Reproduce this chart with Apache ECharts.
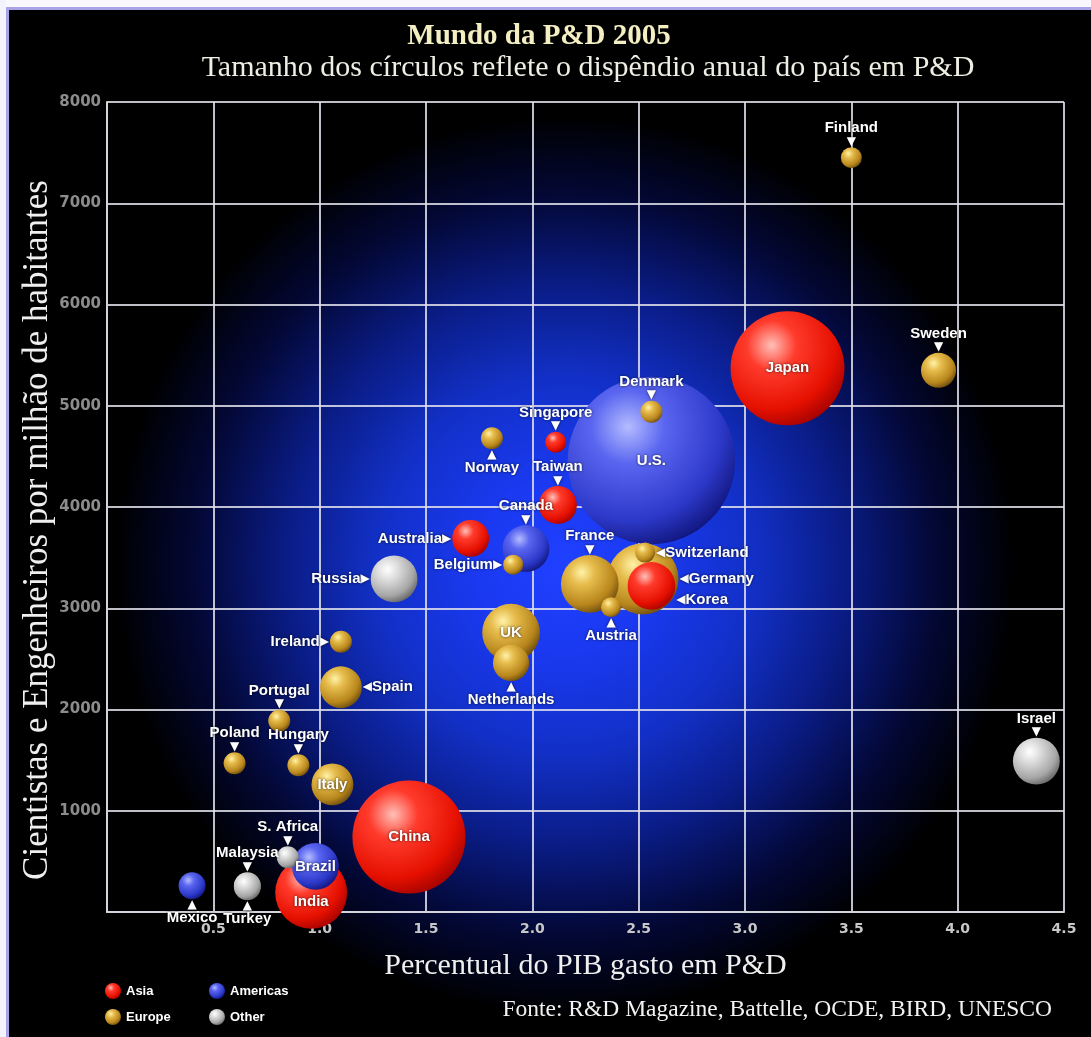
<!DOCTYPE html>
<html>
<head>
<meta charset="utf-8">
<script src="https://cdn.jsdelivr.net/npm/echarts@6/dist/echarts.min.js"></script>
<style>
  html, body { margin: 0; padding: 0; background: #000; }
  #grafico { width: 1091px; height: 1037px; }
</style>
</head>
<body>
<div id="grafico"></div>
<script>
// Países e seus indicadores de P&D (2005)
const paises = ['U.S.', 'Japan', 'China', 'India', 'Germany', 'France', 'UK', 'Korea', 'Canada', 'Russia',
  'Israel', 'Brazil', 'Italy', 'Spain', 'Taiwan', 'Australia', 'Sweden', 'Netherlands', 'Malaysia', 'Turkey',
  'Mexico', 'Finland', 'Denmark', 'Norway', 'Singapore', 'Belgium', 'Switzerland', 'Austria', 'Ireland',
  'Portugal', 'Poland', 'Hungary', 'S. Africa'];
const regiao = ['Americas', 'Asia', 'Asia', 'Asia', 'Europe', 'Europe', 'Europe', 'Asia', 'Americas', 'Other',
  'Other', 'Americas', 'Europe', 'Europe', 'Asia', 'Asia', 'Europe', 'Europe', 'Other', 'Other',
  'Americas', 'Europe', 'Europe', 'Europe', 'Asia', 'Europe', 'Europe', 'Europe', 'Europe',
  'Europe', 'Europe', 'Europe', 'Other'];
// % do PIB gasto em P&D
const pibPct = [2.56, 3.20, 1.42, 0.96, 2.52, 2.27, 1.90, 2.56, 1.97, 1.35,
  4.37, 0.98, 1.06, 1.10, 2.12, 1.71, 3.91, 1.90, 0.66, 0.66,
  0.40, 3.50, 2.56, 1.81, 2.11, 1.91, 2.53, 2.37, 1.10,
  0.81, 0.60, 0.90, 0.85];
// cientistas e engenheiros por milhão de habitantes
const cientistas = [4460, 5370, 740, 190, 3290, 3240, 2760, 3220, 3590, 3290,
  1490, 450, 1260, 2220, 4020, 3690, 5350, 2460, 260, 250,
  260, 7450, 4940, 4680, 4640, 3430, 3550, 3010, 2670,
  1890, 1470, 1450, 540];
// dispêndio anual em P&D (bilhões de US$)
const gasto = [320, 148, 146, 59, 58, 38, 38, 26, 25, 25,
  25, 25, 20, 20, 16.5, 15.5, 14, 15, 8.3, 8.3,
  8.3, 5, 5.5, 5.5, 5, 4.6, 4.6, 4.6, 5.5,
  5.5, 5.5, 5.5, 5.5];

const regioes = ['Asia', 'Americas', 'Europe', 'Other'];
const ticksX = [0.5, 1.0, 1.5, 2.0, 2.5, 3.0, 3.5, 4.0, 4.5];
const ticksY = [1000, 2000, 3000, 4000, 5000, 6000, 7000, 8000];

// onde cada rótulo fica em relação ao círculo
const posRotulo = {
  'U.S.': 'inside', Japan: 'inside', China: 'inside', India: 'inside', Germany: 'right', France: 'top',
  UK: 'inside', Korea: 'right', Canada: 'top', Russia: 'left', Israel: 'top', Brazil: 'inside',
  Italy: 'inside', Spain: 'right', Taiwan: 'top', Australia: 'left', Sweden: 'top', Netherlands: 'bottom',
  Malaysia: 'top', Turkey: 'bottom', Mexico: 'bottom', Finland: 'top', Denmark: 'top', Norway: 'bottom',
  Singapore: 'top', Belgium: 'left', Switzerland: 'right', Austria: 'bottom', Ireland: 'left',
  Portugal: 'top', Poland: 'top', Hungary: 'top', 'S. Africa': 'top'
};
const ajusteRotulo = { Korea: [0, 14], India: [0, 9] };

// diâmetro do círculo proporcional à raiz do dispêndio (área ~ dispêndio)
const escala = 9.36;

function esfera(c0, c1, c2, c3) {
  return {
    type: 'radial', x: 0.36, y: 0.3, r: 0.78,
    colorStops: [
      { offset: 0, color: c0 }, { offset: 0.28, color: c1 },
      { offset: 0.72, color: c2 }, { offset: 1, color: c3 }
    ]
  };
}
const cores = {
  Asia: esfera('#ffc0b8', '#ff3b2c', '#e51000', '#9a0000'),
  Americas: esfera('#b4bcff', '#5a66f0', '#2c38c8', '#0c1070'),
  Europe: esfera('#fff2a8', '#e6bc4c', '#b8861c', '#5e420c'),
  Other: esfera('#ffffff', '#dedede', '#a6a6a6', '#5a5a5a')
};

function rotulo(nome) {
  const pos = posRotulo[nome] || 'top';
  const r = { show: true, offset: ajusteRotulo[nome] || [0, 0] };
  if (pos === 'top') { r.position = 'top'; r.distance = 0; r.formatter = '{t|' + nome + '}\n{a|▼}'; }
  else if (pos === 'bottom') { r.position = 'bottom'; r.distance = 0; r.formatter = '{a|▲}\n{t|' + nome + '}'; }
  else if (pos === 'left') { r.position = 'left'; r.distance = 1; r.formatter = '{t|' + nome + '}{a|▶}'; }
  else if (pos === 'right') { r.position = 'right'; r.distance = 1; r.formatter = '{a|◀}{t|' + nome + '}'; }
  else { r.position = 'inside'; r.formatter = '{t|' + nome + '}'; }
  return r;
}

// camada 0: círculos grandes (desenhados por baixo); camada 1: os demais
const series = [];
[0, 1].forEach(camada => {
  regioes.forEach(reg => {
    const dados = [];
    paises.forEach((p, i) => {
      const c = gasto[i] >= 50 ? 0 : 1;
      if (regiao[i] === reg && c === camada) {
        dados.push({ name: p, value: [pibPct[i], cientistas[i], gasto[i]], label: rotulo(p) });
      }
    });
    series.push({
      type: 'scatter',
      name: reg,
      data: dados,
      symbol: 'circle',
      symbolSize: v => escala * Math.sqrt(v[2]),
      itemStyle: { color: cores[reg], opacity: 1 },
      emphasis: { disabled: true },
      label: {
        show: true,
        color: '#fff',
        textShadowColor: 'rgba(0,0,0,0.75)',
        textShadowBlur: 3,
        rich: {
          t: { fontSize: 15, fontWeight: 'bold', fontFamily: '"Liberation Sans", Arial, sans-serif', color: '#ffffff', lineHeight: 16 },
          a: { fontSize: 12, fontFamily: '"DejaVu Sans", sans-serif', color: '#ffffff', lineHeight: 11 }
        }
      }
    });
  });
});

const W = 1091, H = 1037;
const chart = echarts.init(document.getElementById('grafico'), null, { renderer: 'canvas', width: W, height: H });

const serif = '"Liberation Serif", "Times New Roman", serif';

chart.setOption({
  animation: false,
  backgroundColor: '#000000',
  grid: { left: 107, right: 27, top: 102, bottom: 125, containLabel: false, outerBoundsMode: 'none' },
  xAxis: {
    type: 'value', min: 0, max: 4.5, interval: 0.5,
    name: 'Percentual do PIB gasto em P&D',
    nameLocation: 'middle', nameGap: 39,
    nameTextStyle: { fontFamily: serif, fontSize: 30, color: '#efefef' },
    axisLine: { show: true, onZero: false, lineStyle: { color: '#d4d4dc', width: 2 } },
    axisTick: { show: false },
    splitLine: { show: true, lineStyle: { color: 'rgba(225,225,235,0.85)', width: 2 } },
    axisLabel: {
      color: '#c8c8c8', fontFamily: '"DejaVu Sans", sans-serif', fontWeight: 'bold', fontSize: 14, margin: 10,
      formatter: v => (ticksX.some(t => Math.abs(t - v) < 1e-9) ? v.toFixed(1) : '')
    }
  },
  yAxis: {
    type: 'value', min: 0, max: 8000, interval: 1000,
    axisLine: { show: true, onZero: false, lineStyle: { color: '#d4d4dc', width: 2 } },
    axisTick: { show: false },
    splitLine: { show: true, lineStyle: { color: 'rgba(225,225,235,0.85)', width: 2 } },
    axisLabel: {
      color: '#8c8c8c', fontFamily: '"DejaVu Sans", sans-serif', fontWeight: 'bold', fontSize: 15, margin: 6,
      formatter: v => (ticksY.indexOf(v) >= 0 ? String(v) : '')
    }
  },
  legend: [
    {
      data: ['Asia', 'Europe'], orient: 'vertical', left: 105, top: 983, padding: 0,
      itemWidth: 16, itemHeight: 16, itemGap: 10, icon: 'circle', selectedMode: false,
      textStyle: { color: '#ffffff', fontWeight: 'bold', fontSize: 13, fontFamily: '"Liberation Sans", Arial, sans-serif' }
    },
    {
      data: ['Americas', 'Other'], orient: 'vertical', left: 209, top: 983, padding: 0,
      itemWidth: 16, itemHeight: 16, itemGap: 10, icon: 'circle', selectedMode: false,
      textStyle: { color: '#ffffff', fontWeight: 'bold', fontSize: 13, fontFamily: '"Liberation Sans", Arial, sans-serif' }
    }
  ],
  graphic: [
    {
      // brilho azul atrás da área de plotagem
      type: 'rect', z: -10, silent: true,
      shape: { x: 0, y: 0, width: W, height: H },
      style: {
        fill: {
          type: 'radial', x: 565 / W, y: 565 / H, r: 450 / H,
          colorStops: [
            { offset: 0, color: '#1f40ff' },
            { offset: 0.2, color: '#1a39f0' },
            { offset: 0.42, color: '#1230c6' },
            { offset: 0.62, color: '#0a1c86' },
            { offset: 0.82, color: '#030836' },
            { offset: 1, color: '#000000' }
          ]
        }
      }
    },
    // moldura clara no topo e à esquerda
    { type: 'rect', z: 50, silent: true, shape: { x: 0, y: 0, width: W, height: 8 }, style: { fill: '#f8f8fe' } },
    { type: 'rect', z: 50, silent: true, shape: { x: 0, y: 0, width: 6, height: H }, style: { fill: '#f3f3fc' } },
    { type: 'rect', z: 51, silent: true, shape: { x: 6, y: 7, width: W - 6, height: 3 }, style: { fill: '#a7a3e6' } },
    { type: 'rect', z: 51, silent: true, shape: { x: 6, y: 7, width: 3, height: H - 7 }, style: { fill: '#a7a3e6' } },
    {
      type: 'text', z: 60, x: 539, y: 37,
      style: { text: 'Mundo da P&D 2005', font: 'bold 29px ' + serif, fill: '#f4efc2', align: 'center', verticalAlign: 'middle' }
    },
    {
      type: 'text', z: 60, x: 588, y: 68,
      style: { text: 'Tamanho dos círculos reflete o dispêndio anual do país em P&D', font: '30px ' + serif, fill: '#efeee4', align: 'center', verticalAlign: 'middle' }
    },
    {
      type: 'text', z: 60, x: 38, y: 530, rotation: Math.PI / 2,
      style: { text: 'Cientistas e Engenheiros por milhão de habitantes', font: '35px ' + serif, fill: '#efefef', align: 'center', verticalAlign: 'middle' }
    },
    {
      type: 'text', z: 60, x: 1052, y: 1010,
      style: { text: 'Fonte: R&D Magazine, Battelle, OCDE, BIRD, UNESCO', font: '23.5px ' + serif, fill: '#f2f2f2', align: 'right', verticalAlign: 'middle' }
    }
  ],
  series: series
});
</script>
</body>
</html>
